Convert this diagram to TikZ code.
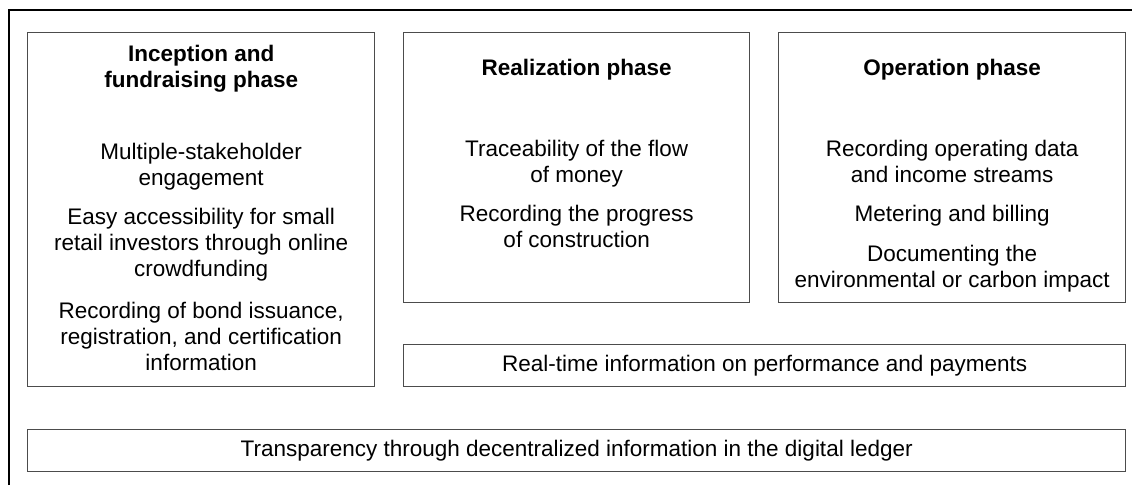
\documentclass[tikz,border=0pt]{standalone}
\usepackage{fontspec}
\setmainfont{Liberation Sans}
\usetikzlibrary{positioning}

\begin{document}
\begin{tikzpicture}[x=1pt,y=1pt,
  phasebox/.style={draw=black!70, line width=1.3pt, anchor=north west, inner sep=0pt},
  widebox/.style={draw=black!70, line width=1.3pt, anchor=north west, inner sep=0pt,
    minimum height=42pt, font=\fontsize{22.5}{26}\selectfont},
  phasetitle/.style={inner sep=0pt, outer sep=0pt, align=center,
    font=\fontsize{22.5}{26}\selectfont\bfseries},
  phasetext/.style={inner sep=0pt, outer sep=0pt, align=center,
    font=\fontsize{22.5}{26}\selectfont}]
\useasboundingbox (0,0) rectangle (1132,-485);
%\draw[help lines, step=50pt] (0,0) grid (1132,-485);
% outer frame, cut off at the right and the bottom
\draw[line width=1.5pt] (9,-485) -- (9,-10) -- (1132,-10);
% the three phases
\node[phasebox, minimum width=347pt, minimum height=354pt] (inc) at (27,-32) {};
\node[phasebox, minimum width=346pt, minimum height=270pt] (real) at (403,-32) {};
\node[phasebox, minimum width=347pt, minimum height=270pt] (oper) at (778,-32) {};
\node[phasetitle, below=10.8pt of inc.north] (inctitle) {\strut Inception and\\fundraising phase};
\node[phasetitle, below=24.8pt of real.north] (realtitle) {\strut Realization phase};
\node[phasetitle, below=24.8pt of oper.north] (opertitle) {\strut Operation phase};
\node[phasetext, below=108.8pt of inc.north] (inctext) {\strut Multiple-stakeholder\\engagement\\[13pt]
  Easy accessibility for small\\retail investors through online\\crowdfunding\\[16pt]
  Recording of bond issuance,\\registration, and certification\\information};
\node[phasetext, below=106.5pt of real.north] (realtext) {\strut Traceability of the flow\\of money\\[13pt]
  Recording the progress\\of construction};
\node[phasetext, below=106pt of oper.north] (opertext) {\strut Recording operating data\\and income streams\\[13pt]
  Metering and billing\\[14pt]
  Documenting the\\environmental or carbon impact};
% the two bars
\node[widebox, minimum width=722pt] (realtime) at (403,-344)
  {Real-time information on performance and payments};
\node[widebox, minimum width=1098pt] (ledger) at (27,-429)
  {Transparency through decentralized information in the digital ledger};
\end{tikzpicture}
\end{document}
